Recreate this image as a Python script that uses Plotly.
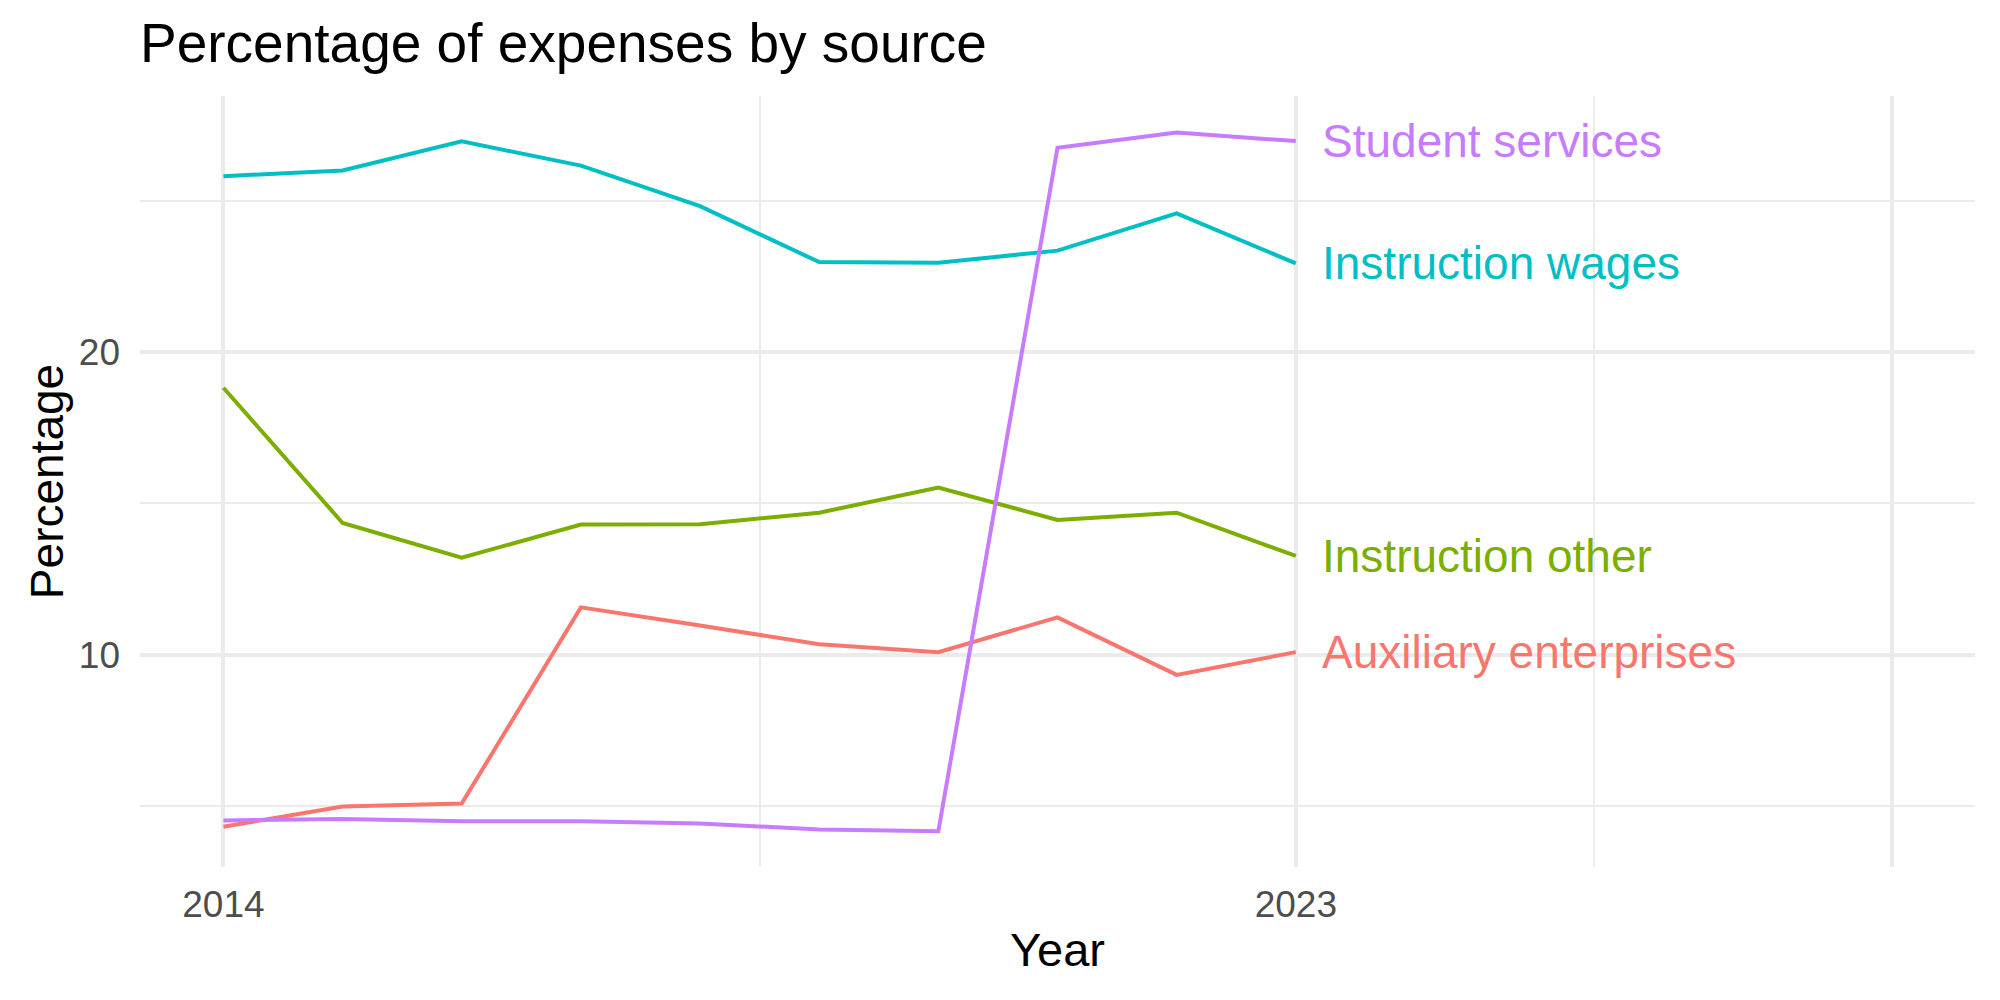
import plotly.graph_objects as go

years = [2014, 2015, 2016, 2017, 2018, 2019, 2020, 2021, 2022, 2023]
auxiliary = [4.31, 4.98, 5.08, 11.56, 10.96, 10.34, 10.08, 11.23, 9.33, 10.08]
instr_other = [18.82, 14.35, 13.20, 14.30, 14.31, 14.69, 15.52, 14.45, 14.69, 13.26]
instr_wages = [25.81, 26.00, 26.96, 26.16, 24.82, 22.97, 22.95, 23.35, 24.58, 22.93]
student = [4.52, 4.57, 4.49, 4.49, 4.42, 4.22, 4.16, 26.75, 27.25, 26.97]

series_names = ["Auxiliary enterprises", "Instruction other", "Instruction wages", "Student services"]
series_values = [auxiliary, instr_other, instr_wages, student]
colors = ["#F8766D", "#7CAE00", "#00BFC4", "#C77CFF"]

x_tickvals = [2014, 2023, 2028]
x_ticktext = ["2014", "2023", ""]
x_minor = [2018.5, 2025.5]
y_tickvals = [10, 20]
y_minor = [5, 15, 25]

FONT = "Liberation Sans, Arial, Helvetica, sans-serif"
GRID = "#EBEBEB"

fig = go.Figure()
for name, vals, col in zip(series_names, series_values, colors):
    fig.add_trace(go.Scatter(x=years, y=vals, mode="lines", name=name,
                             line=dict(color=col, width=4), showlegend=False))
    fig.add_annotation(x=years[-1] + 0.2, y=vals[-1], text=name, showarrow=False,
                       xanchor="left", yanchor="middle", xref="x", yref="y",
                       font=dict(family=FONT, size=46, color=col))

fig.update_layout(
    width=2000, height=1000,
    margin=dict(l=140, r=25, t=96, b=133),
    paper_bgcolor="white", plot_bgcolor="white",
    font=dict(family=FONT, color="black"),
    title=dict(text="Percentage of expenses by source", x=0, xref="paper", xanchor="left",
               y=0.957, yref="container", yanchor="middle",
               font=dict(family=FONT, size=55, color="black")),
    xaxis=dict(range=[2013.3, 2028.7], tickvals=x_tickvals, ticktext=x_ticktext,
               showgrid=True, gridcolor=GRID, gridwidth=4, zeroline=False, showline=False,
               ticks="", ticklabelstandoff=12,
               tickfont=dict(family=FONT, size=37, color="#4D4D4D"),
               minor=dict(tickvals=x_minor, showgrid=True, gridcolor=GRID, gridwidth=2, ticks=""),
               title=dict(text="Year", font=dict(family=FONT, size=47, color="black"), standoff=9)),
    yaxis=dict(range=[2.98, 28.46], tickvals=y_tickvals,
               showgrid=True, gridcolor=GRID, gridwidth=4, zeroline=False, showline=False,
               ticks="", ticklabelstandoff=19,
               tickfont=dict(family=FONT, size=37, color="#4D4D4D"),
               minor=dict(tickvals=y_minor, showgrid=True, gridcolor=GRID, gridwidth=2, ticks=""),
               title=dict(text="Percentage", font=dict(family=FONT, size=46, color="black"), standoff=0)),
)

fig.write_html("out.html")
